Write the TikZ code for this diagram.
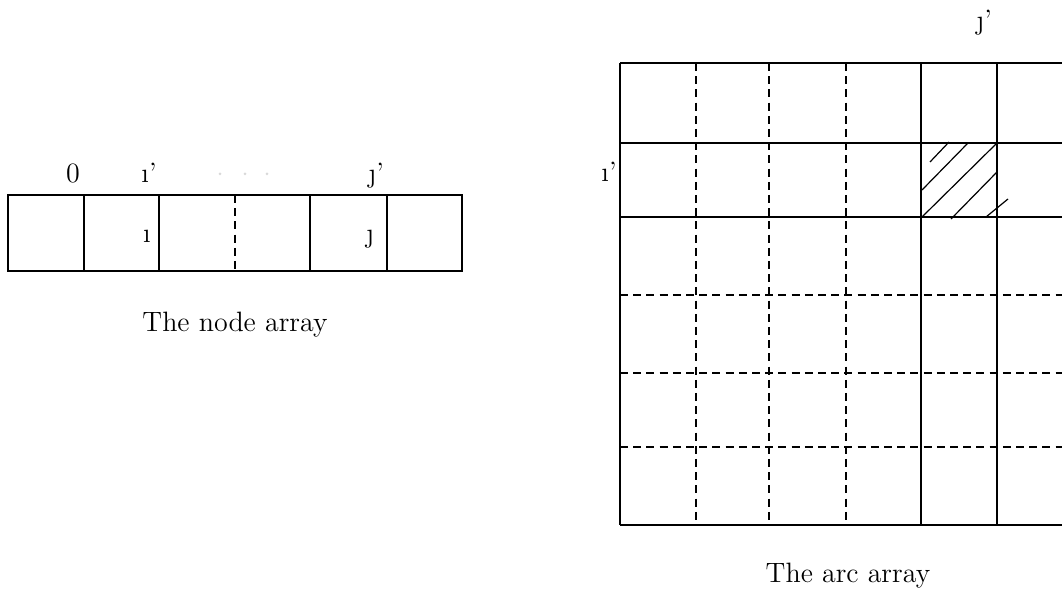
\documentclass[tikz,border=0pt]{standalone}
\usepackage{fontspec}
\tikzset{
  grid line/.style={line width=0.7pt},
  dash line/.style={line width=0.7pt, dash pattern=on 4pt off 2.6pt},
  hatch line/.style={line width=0.6pt},
  lbl/.style={font=\fontsize{14}{16}\selectfont, inner sep=0pt, anchor=base},
}
\begin{document}
\begin{tikzpicture}[x=0.5pt, y=-0.5pt]
\useasboundingbox (0,0) rectangle (1062,593);
\clip (0,0) rectangle (1062,593);

% Node array
\draw[grid line] (8,195) rectangle (462,271);
\foreach \x in {84, 159, 310, 387} {
    \draw[grid line] (\x,195) -- (\x,271);
}
\draw[dash line] (235,195) -- (235,271);
\node[lbl] (zero) at (73,183) {0};
\node[lbl] (iprime) at (149,183) {\i'};
\node[lbl] (jprime) at (376,183) {\j'};
\node[lbl] (ilow) at (147,243) {\i};
\node[lbl] (jlow) at (370,243) {\j};
\foreach \x in {220, 245, 267} {
    \fill[black!15] (\x,174) circle (1.5);
}
\node[lbl] (nodecap) at (235,332) {The node array};

% Arc array
\foreach \y in {63, 143, 217, 525} {
    \draw[grid line] (620,\y) -- (1075,\y);
}
\foreach \y in {295, 373, 447} {
    \draw[dash line] (620,\y) -- (1075,\y);
}
\foreach \x in {620, 921, 997} {
    \draw[grid line] (\x,63) -- (\x,525);
}
\foreach \x in {696, 769, 846} {
    \draw[dash line] (\x,63) -- (\x,525);
}
% hatched cell (i',j')
\foreach \a/\b/\c/\d in {930/162/949/142, 922/190/968/143, 922/217/997/143,
                         951/219/997/172, 986/217/1008/199} {
    \draw[hatch line] (\a,\b) -- (\c,\d);
}
\node[lbl] (rowlbl) at (609,182) {\i'};
\node[lbl] (collbl) at (984,30) {\j'};
\node[lbl] (arccap) at (848,583) {The arc array};
\end{tikzpicture}
\end{document}
